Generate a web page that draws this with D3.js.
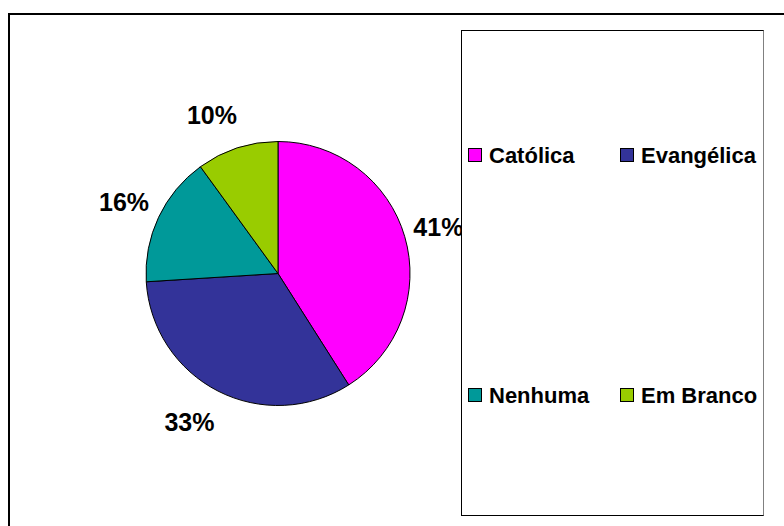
<!DOCTYPE html>
<html>
  <head>
    <meta charset="utf-8">
    <script src="https://d3js.org/d3.v7.min.js"></script>
    <style>
      body { margin: 0; background: #fff; }
      svg { display: block; font-family: "Liberation Sans", Arial, sans-serif; }
    </style>
  </head>
  <body>
    <div class="pie"></div>
    <script>

    var categories = ["Católica", "Evangélica", "Nenhuma", "Em Branco"];
    var values = [41, 33, 16, 10];
    var labels = ["41%", "33%", "16%", "10%"];
    var colors = ["#FF00FF", "#333399", "#009999", "#99CC00"];

    var width = 784, height = 526;
    var cx = 278, cy = 273.5, radius = 132;

    var data = categories.map(function(c, i) { return {cat: c, value: values[i], label: labels[i]}; });
    var color = d3.scaleOrdinal().domain(categories).range(colors);

    var svg = d3.select(".pie").append("svg")
      .attr("width", width).attr("height", height);

    // outer frame (runs past the right and bottom edge)
    svg.append("rect")
      .attr("x", 9).attr("y", 14)
      .attr("width", 820).attr("height", 560)
      .attr("fill", "none").attr("stroke", "#000").attr("stroke-width", 2);

    var pie = d3.pie().sort(null).value(function(d) { return d.value; });
    var arc = d3.arc().innerRadius(0).outerRadius(radius);
    var labelArc = d3.arc().innerRadius(167).outerRadius(167);

    var g = svg.append("g").attr("transform", "translate(" + cx + "," + cy + ")");

    var arcs = g.selectAll("g.slice").data(pie(data)).enter().append("g").attr("class", "slice");

    arcs.append("path")
      .attr("d", arc)
      .attr("fill", function(d) { return color(d.data.cat); })
      .attr("stroke", "#000").attr("stroke-width", 1);

    // outside-end labels; left-side ones sit a bit further left, like the original
    arcs.append("text")
      .attr("transform", function(d) {
        var c = labelArc.centroid(d);
        var a = (d.startAngle + d.endAngle) / 2;
        var nudge = Math.sin(a) < 0 ? -16 * Math.cos(a) * Math.cos(a) : 0;
        return "translate(" + (c[0] + nudge) + "," + c[1] + ")";
      })
      .attr("text-anchor", "middle")
      .attr("dy", "0.36em")
      .attr("font-size", "25px")
      .attr("font-weight", "bold")
      .attr("fill", "#000")
      .text(function(d) { return d.data.label; });

    // legend box
    var lg = svg.append("g").attr("transform", "translate(461,30)");
    lg.append("rect")
      .attr("x", 0.5).attr("y", 0.5)
      .attr("width", 302).attr("height", 485)
      .attr("fill", "#fff").attr("stroke", "#000").attr("stroke-width", 1);
    lg.append("line")
      .attr("x1", 302.5).attr("x2", 302.5).attr("y1", 0.5).attr("y2", 485.5)
      .attr("stroke", "#808080").attr("stroke-width", 1);

    var colX = d3.scaleOrdinal().domain([0, 1]).range([7, 159]);
    var rowY = d3.scaleOrdinal().domain([0, 1]).range([118, 358]);

    var items = lg.selectAll("g.item").data(data).enter().append("g")
      .attr("class", "item")
      .attr("transform", function(d, i) {
        return "translate(" + colX(i % 2) + "," + rowY(Math.floor(i / 2)) + ")";
      });

    items.append("rect")
      .attr("x", 0.5).attr("y", 0.5)
      .attr("width", 13).attr("height", 13)
      .attr("fill", function(d) { return color(d.cat); })
      .attr("stroke", "#000").attr("stroke-width", 1);

    items.append("text")
      .attr("x", 21).attr("y", 15)
      .attr("font-size", "22px")
      .attr("font-weight", "bold")
      .attr("fill", "#000")
      .text(function(d) { return d.cat; });

    </script>
  </body>
</html>
